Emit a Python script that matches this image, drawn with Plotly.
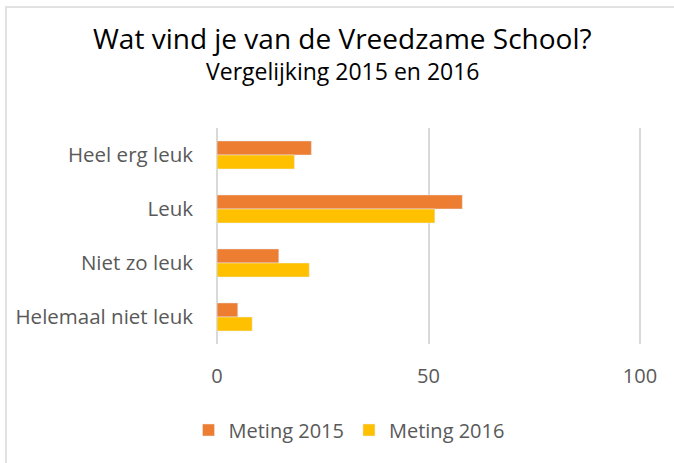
import plotly.graph_objects as go

categories = ["Heel erg leuk", "Leuk", "Niet zo leuk", "Helemaal niet leuk"]
meting_2015 = [22.3, 58.0, 14.6, 4.9]
meting_2016 = [18.3, 51.5, 21.8, 8.3]
x_ticks = [0, 50, 100]

FONT = "Open Sans"
GREY = "#595959"

fig = go.Figure()
fig.add_trace(go.Bar(y=categories, x=meting_2015, orientation="h", name="Meting 2015",
                     marker=dict(color="#ED7D31")))
fig.add_trace(go.Bar(y=categories, x=meting_2016, orientation="h", name="Meting 2016",
                     marker=dict(color="#FFC000")))

W, H = 674, 463
ml, mr, mt, mb = 216, 33, 128, 119
pw, ph = W - ml - mr, H - mt - mb

def px(x):
    return (x - ml) / pw

def py(y):
    return (H - mb - y) / ph

fig.update_layout(
    width=W, height=H,
    margin=dict(l=ml, r=mr, t=mt, b=mb),
    paper_bgcolor="white", plot_bgcolor="white",
    barmode="group", bargap=0.48, bargroupgap=0,
    font=dict(family=FONT, color=GREY, size=20),
    showlegend=True,
    legend=dict(orientation="h", xref="container", yref="container",
                x=349 / W, xanchor="center", y=1 - 430 / H, yanchor="middle",
                font=dict(size=20, color=GREY), traceorder="normal"),
    xaxis=dict(range=[-0.25, 100.25], tickvals=x_ticks, showgrid=True, gridcolor="#D9D9D9",
               gridwidth=1.5, zeroline=False, showline=False,
               tickfont=dict(size=20, color=GREY), ticks="", ticklabelstandoff=18),
    yaxis=dict(autorange="reversed", showgrid=False, zeroline=False, showline=False,
               tickfont=dict(size=20.5, color=GREY), ticks="", ticklabelstandoff=22),
    shapes=[dict(type="rect", xref="paper", yref="paper",
                 x0=px(6), x1=px(W + 20), y0=py(H + 20), y1=py(7),
                 line=dict(color="#D9D9D9", width=1.5), fillcolor="rgba(0,0,0,0)", layer="below")],
    annotations=[
        dict(text="Wat vind je van de Vreedzame School?", xref="paper", yref="paper",
             x=px(342), y=py(38), xanchor="center", yanchor="middle", showarrow=False,
             font=dict(family=FONT, size=28, color="black")),
        dict(text="Vergelijking 2015 en 2016", xref="paper", yref="paper",
             x=px(342), y=py(71), xanchor="center", yanchor="middle", showarrow=False,
             font=dict(family=FONT, size=23, color="black")),
    ],
)

fig.write_html("out.html", config={"displayModeBar": False},
               post_script="document.body.style.margin='0';")
